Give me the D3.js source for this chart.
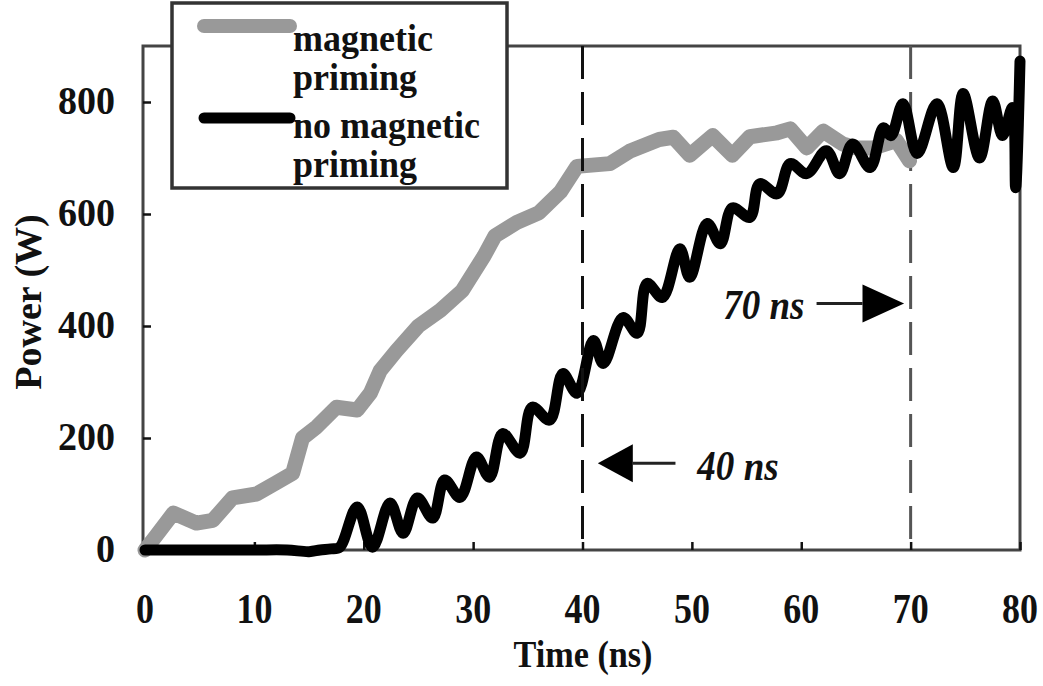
<!DOCTYPE html>
<html><head><meta charset="utf-8">
<script src="https://cdn.jsdelivr.net/npm/d3@7"></script>
<style>
html,body{margin:0;padding:0;background:#fff;}
svg text{font-family:"Liberation Serif","DejaVu Serif";font-weight:bold;fill:#111;}
</style></head>
<body><svg id="c" width="1043" height="686"></svg>
<script>
const xTicks = [0,10,20,30,40,50,60,70,80];
const yTicks = [0,200,400,600,800];
const seriesNames = ["magnetic priming", "no magnetic priming"];
const magT = [0,1,2.6,4.7,6.2,8,10.2,12,13.5,14.4,15.7,17.5,19.4,20.6,21.5,23,25,27,29,31,32,34,36,38,39.5,42.5,44.3,47,48.3,49.8,51.9,53.7,55.3,57.8,59,60.5,62,63.8,65,66.6,68.7,69.9];
const magP = [0,25,66,48,53,93,100,120,137,200,220,255,250,280,320,356,400,428,463,525,561,585,602,640,685,690,712,733,737,705,740,705,738,745,752,718,748,725,718,718,731,695];
const noT = [0,5,10,13,15,16,17,17.8,19.4,20.8,22.4,23.6,24.9,26.3,27.4,28.8,30.3,31.5,32.7,34.3,35.4,37,38.2,39.5,41,41.9,43.7,45,45.9,47.3,48.9,49.8,51.4,52.6,53.7,55.3,56.2,57.8,59,60.5,62.3,63.5,64.7,66.3,67.5,68.2,69.3,70.6,72.4,73.9,74.8,76.3,77.5,78.4,79.3,79.6,80];
const noP = [0,0,0,0,-3,0,2,5,77,5,84,30,93,57,125,94,166,130,208,173,255,232,315,280,374,333,415,387,476,451,538,487,583,547,611,594,654,636,690,672,713,672,725,683,754,740,797,708,797,683,815,700,802,740,790,647,873];
const dashT = [40,70];
const notes = [
  {label:"40 ns", tipT:41.4, baseT:44.6, lineT:48.5, val:155, textT:50.5, textV:125, anchor:"start"},
  {label:"70 ns", tipT:69.4, baseT:65.6, lineT:61.4, val:440, textT:60.3, textV:413, anchor:"end"}
];

const svg = d3.select("#c");
const L=145, R=1020, T=46, B=550;
const x = d3.scaleLinear().domain([0,80]).range([L,R]);
const y = d3.scaleLinear().domain([0,900]).range([B,T]);

svg.append("rect").attr("x",143).attr("y",T).attr("width",R-143).attr("height",B-T)
  .attr("fill","none").attr("stroke","#444").attr("stroke-width",3);

const yAx = d3.axisRight(y).tickValues(yTicks).tickSize(8).tickFormat("");
svg.append("g").attr("transform",`translate(143,0)`).call(yAx).call(g=>{g.select(".domain").remove();g.selectAll("line").attr("stroke","#111").attr("stroke-width",2.5);});
const xAx = d3.axisTop(x).tickValues(xTicks).tickSize(8).tickFormat("");
svg.append("g").attr("transform",`translate(0,${B})`).call(xAx).call(g=>{g.select(".domain").remove();g.selectAll("line").attr("stroke","#111").attr("stroke-width",2.5);});

svg.append("g").selectAll("text").data(yTicks).join("text")
  .attr("transform",d=>`translate(115,${y(d)+12}) scale(1,1.05)`).attr("text-anchor","end")
  .attr("font-size",38).text(d=>d);
svg.append("g").selectAll("text").data(xTicks).join("text")
  .attr("transform",d=>`translate(${x(d)},623) scale(0.9,1.05)`).attr("text-anchor","middle")
  .attr("font-size",40).text(d=>d);

svg.append("text").attr("transform","translate(583,667) scale(0.95,1.05)").attr("text-anchor","middle")
  .attr("font-size",36).text("Time (ns)");
svg.append("text").attr("transform","translate(41,302) rotate(-90)").attr("text-anchor","middle")
  .attr("font-size",38).text("Power (W)");

svg.append("g").selectAll("line").data(dashT).join("line")
  .attr("x1",d=>x(d)).attr("x2",d=>x(d)).attr("y1",T).attr("y2",B)
  .attr("stroke",(d,i)=>i==0?"#111":"#555").attr("stroke-width",3).attr("stroke-dasharray","33,13");

const lineLin = d3.line().x(d=>x(d[0])).y(d=>y(d[1]));
const lineCurve = d3.line().x(d=>x(d[0])).y(d=>y(d[1])).curve(d3.curveCatmullRom.alpha(0.5));
svg.append("path").datum(magT.map((t,i)=>[t,magP[i]])).attr("d",lineLin)
  .attr("fill","none").attr("stroke","#999").attr("stroke-width",15).attr("stroke-linejoin","round").attr("stroke-linecap","round");
svg.append("path").datum(noT.map((t,i)=>[t,noP[i]])).attr("d",lineCurve)
  .attr("fill","none").attr("stroke","#000").attr("stroke-width",11).attr("stroke-linejoin","round").attr("stroke-linecap","round");
svg.append("line").attr("x1",x(dashT[0])).attr("x2",x(dashT[0])).attr("y1",T).attr("y2",B)
  .attr("stroke","#111").attr("stroke-width",3).attr("stroke-dasharray","33,13");

notes.forEach(n=>{
  const g = svg.append("g");
  g.append("line").attr("x1",x(n.baseT)).attr("x2",x(n.lineT)).attr("y1",y(n.val)).attr("y2",y(n.val))
    .attr("stroke","#222").attr("stroke-width",3);
  const h = 19;
  g.append("path").attr("d",`M${x(n.tipT)},${y(n.val)}L${x(n.baseT)},${y(n.val)-h}L${x(n.baseT)},${y(n.val)+h}Z`).attr("fill","#000");
  g.append("text").attr("transform",`translate(${x(n.textT)},${y(n.textV)}) scale(0.95,1.08)`).attr("text-anchor",n.anchor)
    .attr("font-size",39).attr("font-style","italic").text(n.label);
});

const lg = svg.append("g");
lg.append("rect").attr("x",172).attr("y",3).attr("width",335).attr("height",185)
  .attr("fill","#fff").attr("stroke","#333").attr("stroke-width",3.5);
const legendItems = [
  {name:seriesNames[0], lines:["magnetic","priming"], color:"#999", w:14, ly:26, ty:[51,90]},
  {name:seriesNames[1], lines:["no magnetic","priming"], color:"#000", w:11, ly:118, ty:[138,177]}
];
legendItems.forEach(it=>{
  lg.append("line").attr("x1",204).attr("x2",290).attr("y1",it.ly).attr("y2",it.ly)
    .attr("stroke",it.color).attr("stroke-width",it.w).attr("stroke-linecap","round");
  it.lines.forEach((s,j)=>lg.append("text").attr("transform",`translate(293,${it.ty[j]}) scale(1,1.08)`).attr("font-size",36).text(s));
});
</script></body></html>
